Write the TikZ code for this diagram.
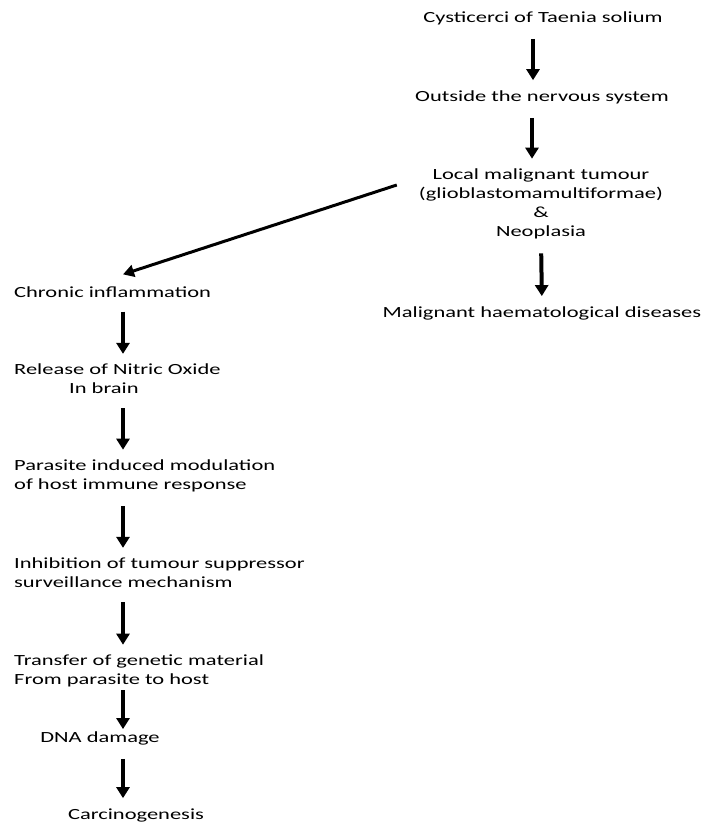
\documentclass[tikz,border=0pt]{standalone}
\usepackage{fontspec}
\newfontfamily\calib[FakeStretch=1.45]{Carlito}
\usetikzlibrary{arrows.meta,calc}
\begin{document}
\begin{tikzpicture}[x=1pt, y=-1pt,
    txt/.style={font=\calib\fontsize{15.5}{19}\selectfont, inner sep=0pt},
    flow/.style={line width=4pt, -{Triangle[width=13pt,length=11pt]},
                 shorten <=14pt, shorten >=10pt},
    slant/.style={line width=3pt, -{Triangle[width=12pt,length=11pt]}}]
    \useasboundingbox (0,0) rectangle (702,823);

    % right branch
    \node[txt] (cyst) at (543,18) {Cysticerci of Taenia solium};
    \node[txt] (outside) at (542,97) {Outside the nervous system};
    \node[txt, align=center] (local) at (541,204)
        {Local malignant tumour\\(glioblastomamultiformae)\\\&\\Neoplasia};
    \node[txt] (haem) at (542,313) {Malignant haematological diseases};

    % left branch
    \coordinate (lane) at (123,0);
    \node[txt, anchor=west] (chronic) at (14,292) {Chronic inflammation};
    \node[txt, anchor=west, align=left] (release) at (14,379)
        {Release of Nitric Oxide\\\hspace*{55pt}In brain};
    \node[txt, anchor=west, align=left] (parasite) at (14,476)
        {Parasite induced modulation\\of host immune response};
    \node[txt, anchor=west, align=left] (inhib) at (14,573)
        {Inhibition of tumour suppressor\\surveillance mechanism};
    \node[txt, anchor=west, align=left] (transfer) at (14,671)
        {Transfer of genetic material\\From parasite to host};
    \node[txt] (dna) at (100,738) {DNA damage};
    \node[txt] (carcino) at (136,815) {Carcinogenesis};

    % arrows
    \draw[flow] ([xshift=-10pt]cyst.south) -- ([xshift=-9pt]outside.north);
    \draw[flow] ([xshift=-10pt]outside.south) -- ([xshift=-9pt]local.north);
    \draw[flow] (local.south) -- (haem.north);
    \draw[slant] ([xshift=-22pt,yshift=19pt]local.west) -- ($(chronic.north -| lane)+(0,-12)$);

    \draw[flow] (chronic.south -| lane) -- (release.north -| lane);
    \draw[flow] (release.south -| lane) -- (parasite.north -| lane);
    \draw[flow] (parasite.south -| lane) -- (inhib.north -| lane);
    \draw[flow] (inhib.south -| lane) -- (transfer.north -| lane);
    \draw[flow, shorten <=3pt, shorten >=2pt] (transfer.south -| lane) -- (dna.north -| lane);
    \draw[flow] (dna.south -| lane) -- (carcino.north -| lane);
\end{tikzpicture}
\end{document}
